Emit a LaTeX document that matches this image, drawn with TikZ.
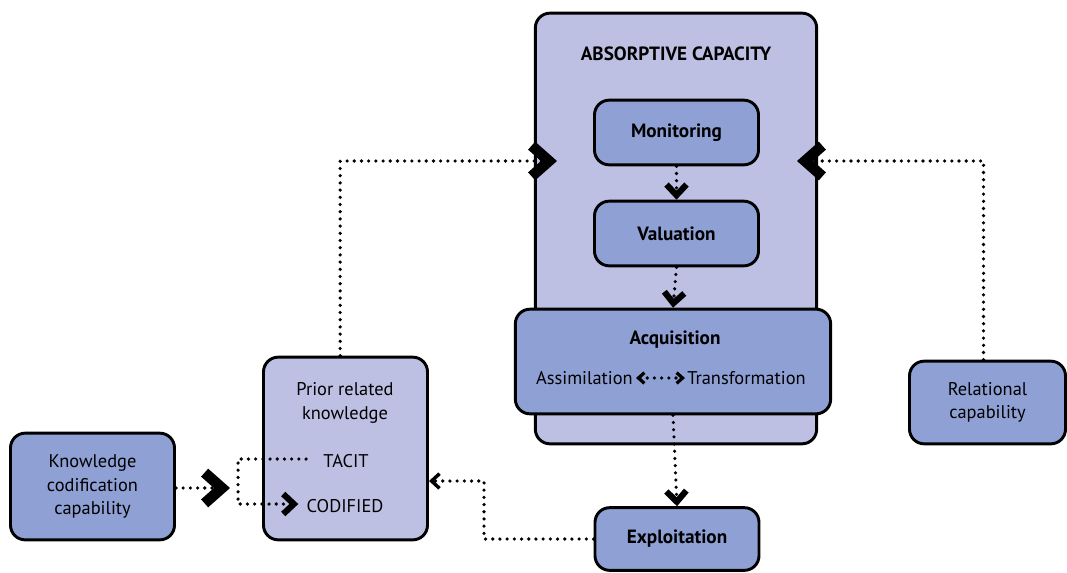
\documentclass[tikz,border=0pt]{standalone}
\usepackage{fontspec}
\setmainfont{PT Sans}
\usetikzlibrary{arrows.meta,calc}
\definecolor{lavender}{HTML}{BEC0E3}
\definecolor{boxblue}{HTML}{8FA0D5}
\begin{document}
\begin{tikzpicture}[x=0.75pt,y=-0.75pt,
  box/.style={draw=black,line width=2.2pt,rounded corners=11pt,inner sep=0pt,align=center,font=\fontsize{13.8}{17.4}\selectfont},
  light/.style={box,fill=lavender},
  blue/.style={box,fill=boxblue},
  boldtxt/.style={font=\fontsize{14.4}{17}\selectfont\bfseries},
  plaintxt/.style={inner sep=0pt,font=\fontsize{13.8}{17.4}\selectfont,align=center},
  dots/.style={line width=2.7pt,line cap=round,dash pattern=on 0pt off 5.4pt},
  bigtip/.style={-{Straight Barb[length=13pt,width=23pt,line width=8pt,sharp]}},
  midtip/.style={-{Straight Barb[length=8pt,width=15pt,line width=4.6pt,sharp]}},
  smalltip/.style={-{Straight Barb[length=6pt,width=11pt,line width=2.6pt,sharp]}},
  twotip/.style={{Straight Barb[length=4.5pt,width=8pt,line width=2.4pt,sharp]}-{Straight Barb[length=4.5pt,width=8pt,line width=2.4pt,sharp]}}
]
\useasboundingbox (0,0) rectangle (1067,572);

% absorptive capacity frame and its stages
\node[light,minimum width=211pt,minimum height=323pt] (ac) at (676,228.5) {};
\node[boldtxt] (actitle) at (676,54) {ABSORPTIVE CAPACITY};
\node[blue,minimum width=123pt,minimum height=48.5pt,boldtxt] (mon) at (676.5,132.5) {Monitoring};
\node[blue,minimum width=123pt,minimum height=48.5pt,boldtxt] (val) at (676.5,233.5) {Valuation};
\node[blue,minimum width=236.5pt,minimum height=78.5pt] (acq) at (673,361.5) {};
\node[boldtxt] (acqt) at (675,340) {Acquisition};
\node[plaintxt,anchor=east] (assim) at (633,378) {Assimilation};
\node[plaintxt,anchor=west] (trans) at (687,378) {Transformation};
\node[blue,minimum width=123pt,minimum height=47pt,boldtxt] (exp) at (677,539) {Exploitation};

% antecedents
\node[light,minimum width=123pt,minimum height=137pt] (prior) at (345.5,448.5) {};
\node[plaintxt] (priort) at (345,403) {Prior related\\knowledge};
\node[plaintxt] (tacit) at (346,461) {TACIT};
\node[plaintxt] (codified) at (345,506) {CODIFIED};
\node[blue,minimum width=123pt,minimum height=80pt] (kcc) at (92.5,486.5) {Knowledge\\codification\\capability};
\node[blue,minimum width=117pt,minimum height=62pt] (rel) at (987.5,402.5) {Relational\\capability};

% connector end points
\coordinate (acin) at (557,161);
\coordinate (acin2) at (797,161);
\coordinate (kccend) at (230,488);
\coordinate (tacitstart) at ($(tacit.west)+(-17,-2)$);
\coordinate (codend) at ($(codified.west)+(-8,-2)$);
\coordinate (bend) at (484,481);

% connectors
\draw[dots,bigtip] ([xshift=-4]prior.north) |- (acin);
\draw[dots,bigtip] ([xshift=-3]rel.north) |- (acin2);
\draw[dots,midtip] (mon.south) -- (val.north);
\draw[dots,midtip] (val.south) -- (acq.north);
\draw[dots,midtip] (acq.south) -- (exp.north);
\draw[dots,twotip] ($(assim.east)+(3,0)$) -- ($(trans.west)+(-2,0)$);
\draw[dots,smalltip] (exp.west) -| (bend) -- (bend -| prior.east);
\draw[dots,bigtip] (kcc.east |- kccend) -- (kccend);
\draw[dots,midtip] (tacitstart) -- ++(-68,0) |- (codend);
\end{tikzpicture}
\end{document}
